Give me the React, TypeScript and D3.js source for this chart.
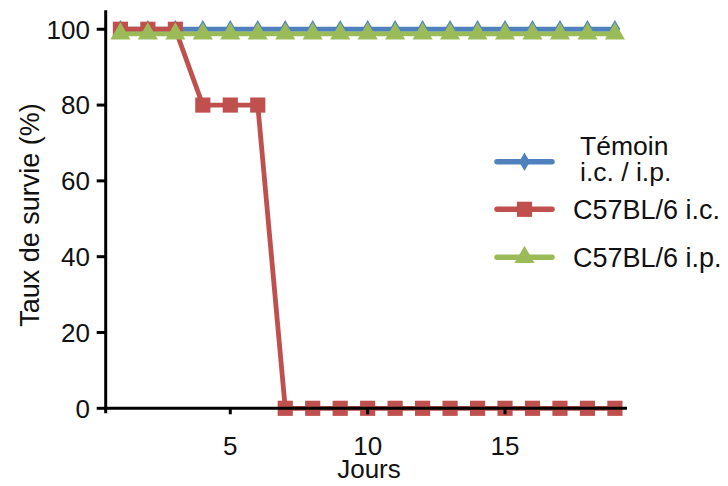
import React from "react";
import * as d3 from "d3";

const days = [1, 2, 3, 4, 5, 6, 7, 8, 9, 10, 11, 12, 13, 14, 15, 16, 17, 18, 19];
const temoin = [100, 100, 100, 100, 100, 100, 100, 100, 100, 100, 100, 100, 100, 100, 100, 100, 100, 100, 100];
const c57ic = [100, 100, 100, 80, 80, 80, 0, 0, 0, 0, 0, 0, 0, 0, 0, 0, 0, 0, 0];
const c57ip = [98.8, 98.8, 98.8, 98.8, 98.8, 98.8, 98.8, 98.8, 98.8, 98.8, 98.8, 98.8, 98.8, 98.8, 98.8, 98.8, 98.8, 98.8, 98.8];
const xTicks = [5, 10, 15];
const yTicks = [0, 20, 40, 60, 80, 100];
const legendLabels = [["Témoin", "i.c. / i.p."], ["C57BL/6 i.c."], ["C57BL/6 i.p."]];

const BLUE = "#4f81bd";
const RED = "#c0504d";
const GREEN = "#9bbb59";
const FONT = "'Liberation Sans', Arial, sans-serif";

const W = 728;
const H = 486;

export default function App() {
  const x = d3.scaleLinear().domain([0.465, 19.44]).range([105.7, 627]);
  const y = d3.scaleLinear().domain([0, 105]).range([408.3, 10.3]);

  const line = d3
    .line<[number, number]>()
    .x((d) => x(d[0]))
    .y((d) => y(d[1]));

  const series = [
    { key: "temoin", values: temoin, color: BLUE, sym: "diamond" },
    { key: "ic", values: c57ic, color: RED, sym: "square" },
    { key: "ip", values: c57ip, color: GREEN, sym: "triangle" },
  ];

  const symPath = (s: string) => {
    if (s === "diamond") return d3.symbol(d3.symbolDiamond, 100)()!;
    if (s === "square") return d3.symbol(d3.symbolSquare, 230)()!;
    return d3.symbol(d3.symbolTriangle, 175)()!;
  };

  const legendX0 = 497;
  const legendX1 = 552;
  const legendYs = [161.7, 209.3, 257.3];

  return (
    <svg
      width={W}
      height={H}
      style={{ position: "absolute", left: 0, top: 0, background: "#fff" }}
      fontFamily={FONT}
    >
      <rect x={0} y={0} width={W} height={H} fill="#fff" />
      {/* series */}
      {series.map((s) => {
        const pts = days.map((d, i) => [d, s.values[i]] as [number, number]);
        return (
          <g key={s.key}>
            <path d={line(pts)!} fill="none" stroke={s.color} strokeWidth={4.8} strokeLinejoin="round" />
            {pts.map((p, i) => (
              <path key={i} d={symPath(s.sym)} transform={`translate(${x(p[0])},${y(p[1])})`} fill={s.color} />
            ))}
          </g>
        );
      })}

      {/* axes */}
      <g stroke="#000" strokeWidth={3} fill="none">
        <line x1={x.range()[0]} x2={x.range()[0]} y1={y.range()[1]} y2={y(0) + 5} />
        <line x1={x.range()[0] - 1.5} x2={x.range()[1]} y1={y(0)} y2={y(0)} />
        {yTicks.map((t) => (
          <line key={t} x1={x.range()[0] - 9} x2={x.range()[0]} y1={y(t)} y2={y(t)} />
        ))}
        {xTicks.map((t) => (
          <line key={t} x1={x(t)} x2={x(t)} y1={y(0)} y2={y(0) + 6} />
        ))}
      </g>
      {yTicks.map((t) => (
        <text key={t} x={90} y={y(t)} dy="0.36em" textAnchor="end" fontSize={26} fill="#111">
          {t}
        </text>
      ))}
      {xTicks.map((t) => (
        <text key={t} x={x(t)} y={455} textAnchor="middle" fontSize={26} fill="#111">
          {t}
        </text>
      ))}
      <text x={369} y={478} textAnchor="middle" fontSize={26} fill="#111">
        Jours
      </text>
      <text
        transform={`translate(39,215) rotate(-90)`}
        textAnchor="middle"
        fontSize={27}
        fill="#111"
      >
        Taux de survie (%)
      </text>

      {/* legend */}
      {series.map((s, i) => (
        <g key={s.key}>
          <line
            x1={legendX0}
            x2={legendX1}
            y1={legendYs[i]}
            y2={legendYs[i]}
            stroke={s.color}
            strokeWidth={5.5}
            strokeLinecap="round"
          />
          <path d={symPath(s.sym)} transform={`translate(${(legendX0 + legendX1) / 2},${legendYs[i]})`} fill={s.color} />
        </g>
      ))}
      <text x={580} y={155} fontSize={26.5} fill="#111">
        {legendLabels[0][0]}
      </text>
      <text x={580} y={181} fontSize={26.5} fill="#111">
        {legendLabels[0][1]}
      </text>
      <text x={573} y={legendYs[1] + 9.5} fontSize={27} fill="#111">
        {legendLabels[1][0]}
      </text>
      <text x={573} y={legendYs[2] + 9.5} fontSize={27} fill="#111">
        {legendLabels[2][0]}
      </text>
    </svg>
  );
}
